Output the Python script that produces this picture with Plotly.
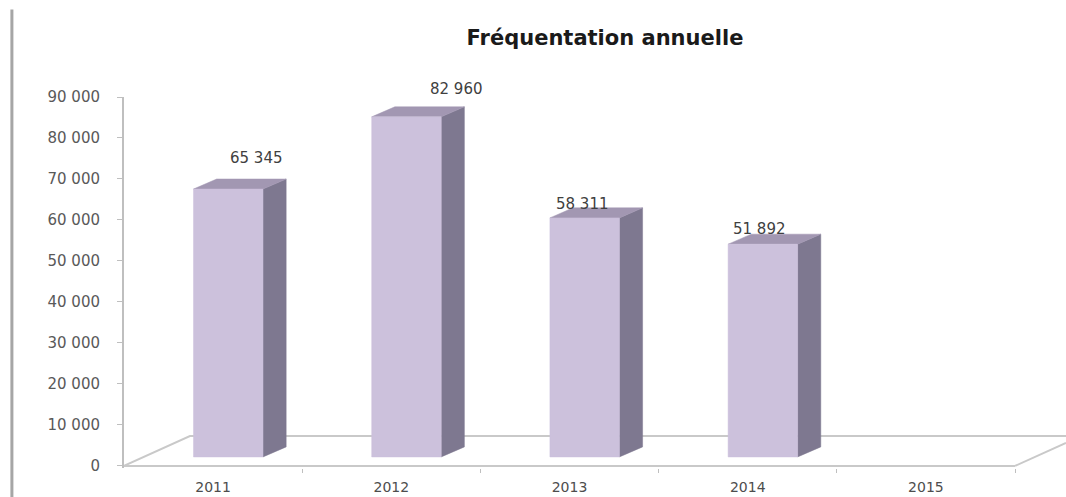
import plotly.graph_objects as go

# ---------------- data ----------------
years = ["2011", "2012", "2013", "2014", "2015"]
visitors = [65345, 82960, 58311, 51892, None]          # 2015: no value
value_labels = ["65 345", "82 960", "58 311", "51 892", ""]
ytick_vals = [0, 10000, 20000, 30000, 40000, 50000, 60000, 70000, 80000, 90000]
ytick_text = ["0", "10 000", "20 000", "30 000", "40 000", "50 000",
              "60 000", "70 000", "80 000", "90 000"]
title_text = "Fréquentation annuelle"

# ---------------- style (3D look) ----------------
BAR_SHIFT = 0.085      # perspective shift of bar front face (category units)
BAR_W = 0.39           # front face width
DEPTH_X = 0.13         # bar depth in x (category units)
DEPTH_Y = 2450         # bar depth in y (value units)
BASE = 2200            # bars stand inside the floor
FLOOR_DX = 0.37
FLOOR_DY = 7300
X_MIN, X_MAX = -0.5, 4.786
Y_MIN, Y_MAX = -500, 90000
label_dx = [28, 50, -2, -3, 0]     # pixel offsets of value labels
label_dy = [31, 28, 14, 15, 0]

FRONT = "#CCC1DC"
SIDE = "#7E7890"
TOP = "#A297B2"
FLOOR = "#C9C9C9"
AXIS = "#BFBFBF"
FONT = "DejaVu Sans"

fig = go.Figure()

# floor (drawn first, behind bars)
n = len(years)
x_front_l, x_front_r = -0.5, n - 0.5
fx, fy = [], []
fx += [x_front_l, x_front_r, None]; fy += [0, 0, None]
fx += [x_front_l, x_front_l + FLOOR_DX, X_MAX, None]; fy += [0, FLOOR_DY, FLOOR_DY, None]
t = (X_MAX - x_front_r) / FLOOR_DX
fx += [x_front_r, X_MAX]; fy += [0, FLOOR_DY * t]
fig.add_trace(go.Scatter(x=fx, y=fy, mode="lines", line=dict(color=FLOOR, width=2),
                         hoverinfo="skip", showlegend=False))

# 3D bars
sx, sy, tx, ty, frx, fry = [], [], [], [], [], []
for i, v in enumerate(visitors):
    if v is None:
        continue
    xl = i + BAR_SHIFT - BAR_W / 2
    xr = i + BAR_SHIFT + BAR_W / 2
    y0 = BASE
    y1 = BASE + v
    sx += [xr, xr + DEPTH_X, xr + DEPTH_X, xr, xr, None]
    sy += [y0, y0 + DEPTH_Y, y1 + DEPTH_Y, y1, y0, None]
    tx += [xl, xr, xr + DEPTH_X, xl + DEPTH_X, xl, None]
    ty += [y1, y1, y1 + DEPTH_Y, y1 + DEPTH_Y, y1, None]
    frx += [xl, xr, xr, xl, xl, None]
    fry += [y0, y0, y1, y1, y0, None]

for px, py, col in [(sx, sy, SIDE), (tx, ty, TOP), (frx, fry, FRONT)]:
    fig.add_trace(go.Scatter(x=px, y=py, mode="lines", fill="toself", fillcolor=col,
                             line=dict(color=col, width=0.5), hoverinfo="skip",
                             showlegend=False))

# value labels
for i, v in enumerate(visitors):
    if v is None:
        continue
    fig.add_annotation(x=i + BAR_SHIFT, y=BASE + v, text=value_labels[i],
                       showarrow=False, xshift=label_dx[i], yshift=label_dy[i],
                       font=dict(family=FONT, size=15, color="#404040"),
                       xanchor="center", yanchor="middle")

# left border line of the picture
fig.add_shape(type="line", xref="paper", yref="paper",
              x0=-0.119, x1=-0.119, y0=1.236, y1=-0.1,
              line=dict(color="#A6A6A6", width=3))

fig.update_layout(
    width=1066, height=497,
    margin=dict(l=124, r=0, t=97, b=29),
    paper_bgcolor="white", plot_bgcolor="white",
    title=dict(text="<b>" + title_text + "</b>", x=605 / 1066, xanchor="center",
               y=1 - 38 / 497, yanchor="middle", yref="container",
               font=dict(family=FONT, size=21, color="#1A1A1A")),
    xaxis=dict(range=[X_MIN, X_MAX], tickmode="array", tickvals=list(range(n)),
               ticktext=years, ticks="", showline=False, showgrid=False,
               zeroline=False, ticklabelstandoff=9,
               tickfont=dict(family=FONT, size=14, color="#4D4D4D"),
               minor=dict(tickmode="array",
                          tickvals=[k + 0.5 for k in range(n)],
                          ticks="outside", ticklen=4, tickcolor=AXIS, showgrid=False)),
    yaxis=dict(range=[Y_MIN, Y_MAX], tickmode="array", tickvals=ytick_vals,
               ticktext=ytick_text, showline=True, linecolor=AXIS, linewidth=2,
               ticks="outside", ticklen=5, tickcolor=AXIS, showgrid=False,
               zeroline=False, ticklabelstandoff=14,
               tickfont=dict(family=FONT, size=15, color="#595959")),
    showlegend=False,
)

fig.write_html("out.html", config={"displayModeBar": False},
               post_script="document.body.style.margin='0';document.body.style.overflow='hidden';")
